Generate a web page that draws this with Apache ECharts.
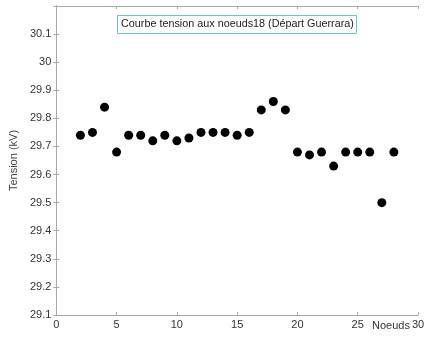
<!DOCTYPE html>
<html>
<head>
<meta charset="utf-8">
<script src="https://cdn.jsdelivr.net/npm/echarts@6/dist/echarts.min.js"></script>
<style>
  html, body { margin: 0; padding: 0; background: #fff; }
  #chart { width: 429px; height: 339px; }
</style>
</head>
<body>
<div id="chart"></div>
<script>
// Node indices along the feeder
const nodes = [2, 3, 4, 5, 6, 7, 8, 9, 10, 11, 12, 13, 14, 15, 16, 17, 18, 19, 20, 21, 22, 23, 24, 25, 26, 27, 28];
// Voltage at each node (kV)
const voltages = [29.74, 29.75, 29.84, 29.68, 29.74, 29.74, 29.72, 29.74, 29.72, 29.73, 29.75, 29.75, 29.75, 29.74, 29.75, 29.83, 29.86, 29.83, 29.68, 29.67, 29.68, 29.63, 29.68, 29.68, 29.68, 29.50, 29.68];

const titleText = 'Courbe tension aux noeuds18 (Départ Guerrara)';
const yName = 'Tension (kV)';
const xName = 'Noeuds';

const font = 'Arial, "Liberation Sans", sans-serif';
const axisGray = '#a8a8a8';
const labelColor = '#333';

const points = nodes.map((n, i) => [n, voltages[i]]);

const chart = echarts.init(document.getElementById('chart'));

const baseX = {
  type: 'value', min: 0, max: 30, interval: 5,
  axisLine: { show: true, lineStyle: { color: axisGray, width: 1 } },
  axisTick: { show: true, inside: true, length: 3, lineStyle: { color: axisGray } },
  splitLine: { show: false }
};
const baseY = {
  type: 'value', min: 29.1, max: 30.2, interval: 0.1,
  axisLine: { show: true, lineStyle: { color: axisGray, width: 1 } },
  axisTick: { show: true, inside: true, length: 3, lineStyle: { color: axisGray } },
  splitLine: { show: false }
};

chart.setOption({
  animation: false,
  backgroundColor: '#fff',
  title: {
    text: titleText,
    left: 117, top: 15,
    padding: [4, 3, 4, 4],
    borderColor: '#6cc6d2', borderWidth: 1,
    textStyle: { fontFamily: font, fontSize: 10.8, fontWeight: 'normal', color: '#222' }
  },
  grid: { left: 55, right: 11, top: 6, bottom: 24, containLabel: false },
  xAxis: [
    Object.assign({}, baseX, {
      position: 'bottom',
      axisLabel: { color: labelColor, fontFamily: font, fontSize: 11, margin: 4 }
    }),
    Object.assign({}, baseX, { position: 'top', axisLabel: { show: false } })
  ],
  yAxis: [
    Object.assign({}, baseY, {
      position: 'left',
      name: yName, nameLocation: 'middle', nameGap: 28, nameRotate: 90,
      nameTextStyle: { color: '#444', fontFamily: font, fontSize: 11 },
      axisLabel: {
        color: labelColor, fontFamily: font, fontSize: 11, margin: 5,
        showMaxLabel: false,
        formatter: v => String(Math.round(v * 10) / 10)
      }
    }),
    Object.assign({}, baseY, { position: 'right', axisLabel: { show: false } })
  ],
  graphic: [{
    type: 'text', left: 372, top: 320,
    style: { text: xName, fill: labelColor, font: '11px ' + font }
  }],
  series: [{
    type: 'scatter',
    data: points,
    symbol: 'circle',
    symbolSize: 9,
    itemStyle: { color: '#000', opacity: 1 }
  }]
});
</script>
</body>
</html>
